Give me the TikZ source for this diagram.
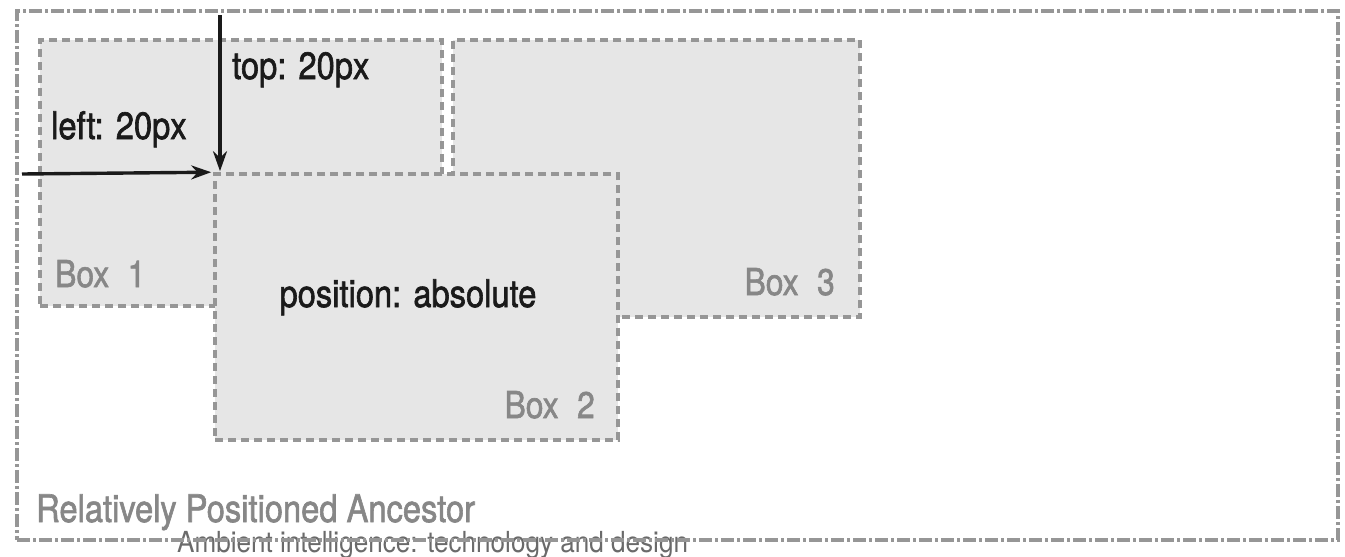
\documentclass[tikz,border=0pt]{standalone}
\usepackage{fontspec}
\setmainfont{TeX Gyre Heros}[FakeStretch=0.86, FakeBold=1.6]
\newfontfamily\capfont{TeX Gyre Heros}[FakeStretch=0.9]
\usetikzlibrary{arrows.meta}
\definecolor{boxfill}{HTML}{E6E6E6}
\definecolor{dashgrey}{HTML}{969696}
\definecolor{labelgrey}{HTML}{878787}
\definecolor{inkblack}{HTML}{1A1A1A}
\definecolor{capgrey}{HTML}{6A6A6A}
\tikzset{
  px/.style={x=1pt,y=-1pt},
  ancestor/.style={draw=dashgrey, line width=3.6pt,
    dash pattern=on 13pt off 3pt on 3pt off 3pt, inner sep=0pt},
  cssbox/.style={draw=dashgrey, fill=boxfill, line width=3.6pt,
    dash pattern=on 8pt off 5pt, inner sep=0pt},
  offset/.style={draw=inkblack, line width=3.4pt,
    -{Stealth[length=20pt,width=14pt]}},
  darktext/.style={text=inkblack, inner sep=0pt, font=\fontsize{38}{40}\selectfont},
  greytext/.style={text=labelgrey, inner sep=0pt, font=\fontsize{37}{40}\selectfont},
}
\begin{document}
\begin{tikzpicture}[px]
  \useasboundingbox (0,0) rectangle (1345,557);
  % figure caption, crossed by the lower border of the ancestor
  \node[text=capgrey, inner sep=0pt, anchor=base west,
        font=\capfont\fontsize{29}{30}\selectfont] (caption) at (177,552)
        {Ambient intelligence: technology and design};
  % containing block and the three boxes
  \node[ancestor, minimum width=1321pt, minimum height=529pt] (anc) at (677.5,275.5) {};
  \node[cssbox, minimum width=402pt, minimum height=266pt] (box1) at (241,173) {};
  \node[cssbox, minimum width=407pt, minimum height=277pt] (box3) at (656.5,178.5) {};
  \node[cssbox, minimum width=403pt, minimum height=266pt] (box2) at (416.5,307) {};
  % offset arrows
  \coordinate (topstart) at (220,15);
  \coordinate (leftstart) at (22,174);
  \draw[offset, shorten >=1pt] (topstart) -- (topstart |- box2.north west);
  \draw[offset, shorten >=2pt] (leftstart) -- (box2.north west);
  % labels
  \node[darktext, anchor=base west] (toplbl) at (232,79) {top: 20px};
  \node[darktext, anchor=base west] (leftlbl) at (51,139) {left: 20px};
  \node[darktext, anchor=base] (poslbl) at (408,307) {position: absolute};
  \node[greytext, anchor=base west] (b1lbl) at (55,287) {Box\hspace{0.5em}1};
  \node[greytext, anchor=base east] (b3lbl) at (835,295) {Box\hspace{0.5em}3};
  \node[greytext, anchor=base east] (b2lbl) at (595,418) {Box\hspace{0.5em}2};
  \node[greytext, anchor=base west, font=\fontsize{38}{40}\selectfont] (anclbl) at (36,522)
        {Relatively Positioned Ancestor};
\end{tikzpicture}
\end{document}
